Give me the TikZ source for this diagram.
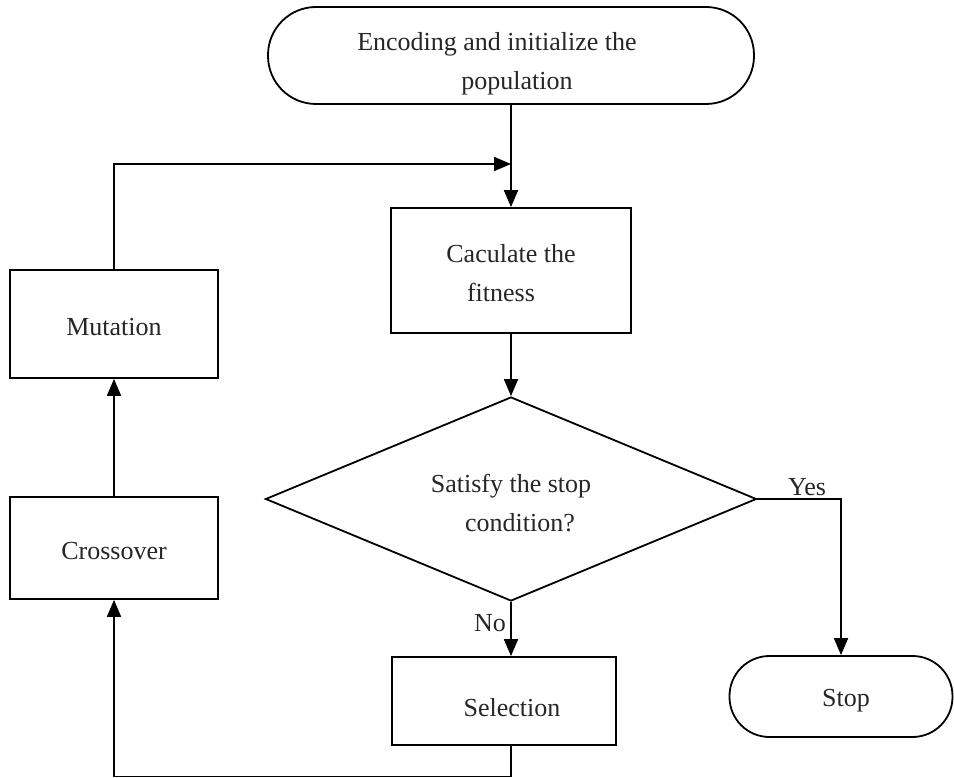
\documentclass[tikz,border=0pt]{standalone}
\usepackage{fontspec}
\setmainfont{Liberation Serif}
\usetikzlibrary{arrows.meta,shapes.geometric}
\begin{document}
\begin{tikzpicture}[x=1pt,y=-1pt,
  every node/.style={font=\fontsize{26}{39}\selectfont, text=black!85, align=center, inner sep=0pt},
  box/.style={draw, line width=1.8pt, rectangle},
  term/.style={draw, line width=1.8pt, rectangle},
  cond/.style={draw, line width=1.8pt, diamond},
  caption/.style={text depth=0pt},
  flow/.style={line width=1.8pt, -{Triangle[length=17pt,width=14pt]}},
  plain/.style={line width=1.8pt}]
\useasboundingbox (0,0) rectangle (954,778);

% shapes of the flowchart
\node[term, rounded corners=48pt, minimum width=486pt, minimum height=97pt] (start) at (511,55.5) {};
\node[box, minimum width=240pt, minimum height=125pt] (calc) at (511,270.5) {};
\node[cond, minimum width=491pt, minimum height=204pt] (dec) at (511,499) {};
\node[box, minimum width=224pt, minimum height=88pt] (sel) at (504,701) {};
\node[term, rounded corners=40pt, minimum width=223pt, minimum height=81pt] (stop) at (841,696.5) {};
\node[box, minimum width=208pt, minimum height=108pt] (mut) at (114,324) {};
\node[box, minimum width=208pt, minimum height=102pt] (cross) at (114,548) {};

% texts of the shapes
\node (starttext) at (511,63.5) {Encoding and initialize the\hspace*{28pt}\\\hspace*{12pt}population};
\node (calctext) at (511,273) {Caculate the\\fitness\hspace*{20pt}};
\node (dectext) at (511,503) {Satisfy the stop\\\hspace*{18pt}condition?};
\node[caption] (seltext) at (512,707) {Selection};
\node[caption] (stoptext) at (846,698) {Stop};
\node[caption] (muttext) at (114,327) {Mutation};
\node[caption] (crosstext) at (114,551) {Crossover};

% joints of the loop
\coordinate (join) at (511,164);
\coordinate (loopbot) at (511,776.5);

% connectors
\draw[flow] (start.south) -- (calc.north);
\draw[flow] (mut.north) |- (join);
\draw[flow] (calc.south) -- (dec.north);
\draw[flow] (dec.east) -| (stop.north);
\draw[flow] (dec.south) -- (dec.south |- sel.north);
\draw[plain] (dec.south |- sel.south) -- (loopbot);
\draw[flow] (loopbot) -| (cross.south);
\draw[flow] (cross.north) -- (mut.south);

% branch labels
\node[anchor=base] (yes) at (807,495) {Yes};
\node[anchor=base] (no) at (490,631) {No};
\end{tikzpicture}
\end{document}
